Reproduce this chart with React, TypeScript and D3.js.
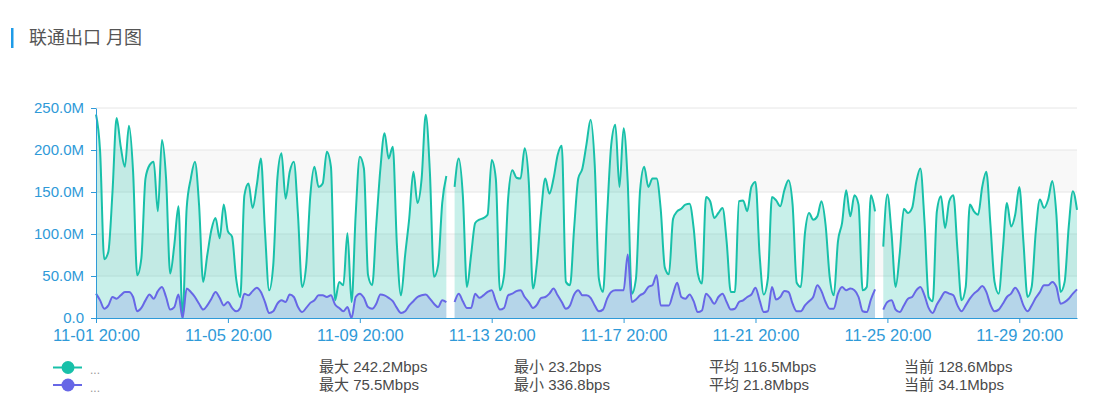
import * as d3 from "d3";
import { useEffect, useRef } from "react";

const width = 1112;
const height = 418;
const marginLeft = 96;
const marginRight = 35;
const marginTop = 108;
const marginBottom = 100;

const font = "'Liberation Sans', 'Noto Sans CJK SC', sans-serif";
const axisColor = "#2f9ad8";
const title = "联通出口 月图";

// one value every 3 hours, starting 11-01 20:00 (Mbps)
const startTime = new Date(Date.UTC(2023, 10, 1, 20, 0));
const stepHours = 3;

const inbound: (number | null)[] = [
    242.2, 198, 70, 79, 150, 238, 204, 180,
    229, 174, 51, 71, 166, 182, 186, 127,
    212, 166, 53, 87, 133, 0, 131, 166,
    186, 135, 43, 75, 105, 119, 95, 135,
    103, 97, 47, 25, 146, 160, 131, 158,
    190, 103, 33, 63, 166, 196, 142, 174,
    186, 123, 37, 63, 146, 180, 156, 160,
    198, 180, 21, 43, 39, 101, 19, 123,
    192, 178, 51, 39, 111, 178, 220, 190,
    204, 87, 27, 75, 119, 174, 137, 166,
    242, 174, 49, 63, 137, 169, null, 156,
    190, 146, 37, 75, 113, 117, 119, 123,
    188, 166, 33, 51, 143, 176, 167, 166,
    202, 162, 35, 67, 127, 166, 148, 166,
    194, 205, 43, 39, 107, 166, 178, 207,
    236, 182, 47, 31, 123, 206, 230, 156,
    226, 162, 29, 47, 152, 180, 156, 166,
    166, 130, 60, 52, 118, 127, 130, 135,
    136, 107, 53, 41, 144, 139, 119, 125,
    131, 91, 31, 31, 139, 140, 127, 156,
    162, 75, 28, 47, 144, 140, 133, 152,
    164, 135, 42, 37, 101, 125, 117, 121,
    139, 111, 49, 27, 91, 113, 152, 121,
    146, 135, 33, 37, 146, 127, null, 85,
    147, 101, 37, 77, 130, 125, 131, 162,
    178, 115, 25, 20, 127, 145, 107, 139,
    146, 81, 21, 37, 135, 127, 123, 156,
    174, 111, 43, 29, 81, 137, 109, 123,
    156, 91, 25, 37, 103, 141, 131, 141,
    163, 123, 31, 43, 109, 151, 128.6,
];

const outbound: (number | null)[] = [
    29, 21, 11, 15, 25, 23, 27, 31,
    31, 25, 8, 12, 21, 28, 23, 32,
    37, 25, 10, 13, 28, 0, 35, 31,
    25, 17, 10, 15, 23, 31, 24, 15,
    19, 12, 8, 12, 29, 27, 32, 36,
    31, 19, 6, 8, 17, 21, 19, 28,
    25, 13, 7, 12, 18, 21, 27, 27,
    25, 27, 16, 12, 8, 13, 0, 25,
    29, 24, 13, 11, 17, 28, 27, 24,
    20, 12, 6, 8, 15, 20, 25, 27,
    28, 23, 17, 13, 21, 19, null, 19,
    29, 20, 12, 12, 29, 24, 27, 31,
    33, 20, 10, 12, 27, 29, 32, 33,
    25, 19, 12, 16, 24, 25, 29, 35,
    27, 19, 11, 15, 28, 33, 27, 27,
    24, 15, 8, 10, 23, 31, 33, 33,
    33, 75.5, 19, 22, 27, 30, 37, 39,
    51, 15, 15, 15, 29, 42, 25, 23,
    28, 20, 7, 9, 29, 24, 17, 25,
    29, 19, 10, 11, 19, 21, 25, 28,
    36, 21, 7, 8, 37, 22, 25, 32,
    31, 17, 8, 8, 15, 20, 25, 39,
    32, 19, 11, 11, 29, 37, 33, 35,
    33, 25, 8, 7, 22, 34, null, 10,
    19, 21, 10, 7, 15, 23, 25, 33,
    37, 27, 12, 6, 16, 24, 31, 29,
    27, 15, 8, 15, 23, 29, 33, 38,
    31, 16, 8, 10, 17, 25, 29, 36,
    29, 15, 8, 15, 24, 31, 39, 39,
    43, 37, 17, 19, 23, 29, 34.1,
];

const yTicks = [0, 50, 100, 150, 200, 250];
const yTickLabels = ["0.0", "50.0M", "100.0M", "150.0M", "200.0M", "250.0M"];
const xTickDays = [0, 4, 8, 12, 16, 20, 24, 28];

const seriesColors = ["#18c0a9", "#6767e6"];
const seriesFillOpacity = [0.24, 0.2];
const legendStats = [
    ["最大 242.2Mbps", "最小 23.2bps", "平均 116.5Mbps", "当前 128.6Mbps"],
    ["最大 75.5Mbps", "最小 336.8bps", "平均 21.8Mbps", "当前 34.1Mbps"],
];
const legendRows = [367.5, 385];
const legendCols = [319, 514, 709, 904];

const App = () => {
    const gx = useRef<SVGGElement>(null);
    const gy = useRef<SVGGElement>(null);

    const times = inbound.map((_, i) => d3.utcHour.offset(startTime, i * stepHours));
    const x = d3.scaleUtc(d3.extent(times) as [Date, Date], [marginLeft, width - marginRight]);
    const y = d3.scaleLinear([0, 250], [height - marginBottom, marginTop]);

    const area = d3.area<number | null>()
        .defined(d => d != null)
        .x((d, i) => x(times[i]))
        .y0(y(0))
        .y1(d => y(d as number))
        .curve(d3.curveMonotoneX);
    const line = d3.line<number | null>()
        .defined(d => d != null)
        .x((d, i) => x(times[i]))
        .y(d => y(d as number))
        .curve(d3.curveMonotoneX);

    useEffect(() => {
        d3.select(gx.current!)
            .call(d3.axisBottom(x)
                .tickValues(xTickDays.map(d => d3.utcDay.offset(startTime, d)))
                .tickFormat(d => d3.utcFormat("%m-%d %H:%M")(d as Date))
                .tickSize(5).tickSizeOuter(0).tickPadding(6))
            .attr("font-size", 16.5).attr("font-family", font)
            .call(g => g.select(".domain").attr("stroke", axisColor))
            .call(g => g.selectAll(".tick line").attr("stroke", axisColor))
            .call(g => g.selectAll(".tick text").attr("fill", axisColor));
    }, [gx, x]);

    useEffect(() => {
        d3.select(gy.current!)
            .call(d3.axisLeft(y)
                .tickValues(yTicks)
                .tickFormat((d, i) => yTickLabels[i])
                .tickSize(5).tickSizeOuter(0).tickPadding(7))
            .attr("font-size", 15).attr("font-family", font)
            .call(g => g.select(".domain").attr("stroke", axisColor))
            .call(g => g.selectAll(".tick line").attr("stroke", axisColor))
            .call(g => g.selectAll(".tick text").attr("fill", axisColor));
    }, [gy, y]);

    const series = [inbound, outbound];

    return (
        <svg width={width} height={height} style={{ position: "absolute", left: 0, top: 0, background: "#fff" }} fontFamily={font}>
            {/* title */}
            <rect x={11} y={28} width={2.5} height={20} fill="#1e9be8" />
            <text x={29} y={38} fontSize={18} fill="#555" dominantBaseline="central">{title}</text>

            {/* split areas */}
            {d3.pairs(yTicks).map(([a, b], i) => (
                <rect key={i} x={marginLeft} y={y(b)} width={width - marginRight - marginLeft} height={y(a) - y(b)}
                    fill={i % 2 === 1 ? "rgba(0,0,0,0.028)" : "none"} />
            ))}
            {yTicks.slice(1).map(t => (
                <line key={t} x1={marginLeft} x2={width - marginRight} y1={y(t)} y2={y(t)} stroke="#e6e6e6" />
            ))}

            {series.map((s, k) => (
                <g key={k}>
                    <path d={area(s) as string} fill={seriesColors[k]} fillOpacity={seriesFillOpacity[k]} />
                    <path d={line(s) as string} fill="none" stroke={seriesColors[k]} strokeWidth={2} strokeLinejoin="round" />
                </g>
            ))}

            <g ref={gx} transform={`translate(0,${height - marginBottom})`} />
            <g ref={gy} transform={`translate(${marginLeft},0)`} />

            {/* legend */}
            {legendRows.map((ly, k) => (
                <g key={k}>
                    <line x1={53} x2={82} y1={ly} y2={ly} stroke={seriesColors[k]} strokeWidth={2} />
                    <circle cx={68} cy={ly} r={6.5} fill={seriesColors[k]} />
                    <text x={90} y={ly} dy="0.55em" fontSize={12} fill="#999">...</text>
                    {legendStats[k].map((t, j) => (
                        <text key={j} x={legendCols[j]} y={ly - 0.5} dy="0.35em" fontSize={15} fill="#4a4a4a">{t}</text>
                    ))}
                </g>
            ))}
        </svg>
    );
};

export default App;
